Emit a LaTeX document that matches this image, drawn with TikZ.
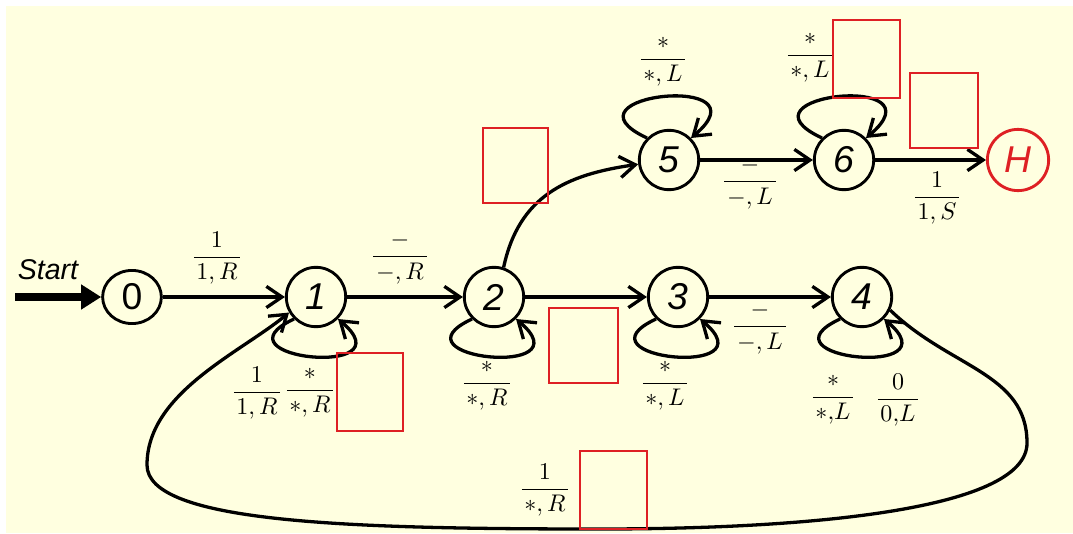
\documentclass[tikz,border=0pt]{standalone}
\usepackage{fontspec}
\setsansfont{Liberation Sans}
\usepackage{amsmath}
\usetikzlibrary{arrows.meta,shapes.geometric}
\definecolor{fond}{RGB}{255,255,224}
\definecolor{rouge}{RGB}{222,32,36}
\newcommand{\trans}[2]{$\dfrac{\mkern2mu#1\mkern2mu}{\mkern2mu#2\mkern2mu}$}

\begin{document}
\begin{tikzpicture}[x=0.16mm, y=0.16mm, >={Straight Barb[length=2.5mm,width=3.4mm]},
	etat/.style={draw, circle, line width=1.3pt, minimum size=9.5mm, inner sep=0pt, font=\fontsize{17}{18}\selectfont\sffamily\itshape},
	etiq/.style={font=\fontsize{10.5}{12}\selectfont, inner sep=0pt},
	fleche/.style={->, line width=1.5pt},
	boucleh/.style={fleche, out=155, in=40, distance=16.5mm},
	boucleb/.style={fleche, out=-155, in=-40, distance=15mm},
	cadre/.style={draw=rouge, line width=1.1pt}]
	% fond
	\useasboundingbox (0,0) rectangle (1073,533);
	\fill[fond] (6,0) rectangle (1073,527);
	% états
	\node[etat, ellipse, minimum width=9.4mm, minimum height=8.5mm, font=\fontsize{17}{18}\selectfont\sffamily] (n0) at (132,236) {0};
	\node[etat] (n1) at (316,236) {1};
	\node[etat] (n2) at (494,236) {2};
	\node[etat] (n3) at (678,236) {3};
	\node[etat] (n4) at (862,236) {4};
	\node[etat] (n5) at (669,373) {5};
	\node[etat] (n6) at (844,373) {6};
	\node[etat, draw=rouge, text=rouge, minimum size=9.8mm] (h) at (1018,373) {H};
	% départ
	\node[font=\fontsize{13}{14}\selectfont\sffamily\itshape] (start) at (48,263) {Start};
	\coordinate (s0) at (15,236);
	\draw[line width=3.2pt, -{Triangle[length=3.2mm,width=3.8mm]}] (s0) -- (n0);
	% transitions
	\draw[fleche] (n0) -- (n1);
	\draw[fleche] (n1) -- (n2);
	\draw[fleche] (n2) -- (n3);
	\draw[fleche] (n3) -- (n4);
	\draw[fleche] (n5) -- (n6);
	\draw[fleche] (n6) -- (h);
	\draw[fleche] (n2.72) to[out=78, in=188, looseness=1.1] (n5);
	% boucles
	\draw[boucleb] (n1.-135) to (n1.-45);
	\draw[boucleb] (n2.-135) to (n2.-45);
	\draw[boucleb] (n3.-135) to (n3.-45);
	\draw[boucleb] (n4.-135) to (n4.-45);
	\draw[boucleh] (n5.135) to (n5.45);
	\draw[boucleh] (n6.135) to (n6.45);
	% retour de 4 vers 1
	\coordinate (q1) at (1027,90);
	\coordinate (q2) at (600,4);
	\coordinate (q3) at (147,68);
	\draw[fleche] (n4.-25) .. controls (950,165) and (1027,160) .. (q1)
		.. controls (1027,25) and (820,4) .. (q2)
		.. controls (350,4) and (147,10) .. (q3)
		.. controls (147,140) and (240,180) .. (n1.-150);
	% étiquettes
	\node[etiq] (e01) at (217,275) {\trans{1}{1,R}};
	\node[etiq] (e12) at (400,275) {\trans{-}{-,R}};
	\node[etiq] (e55) at (663,471) {\trans{*}{*,L}};
	\node[etiq] (e56) at (750,350) {\trans{-}{-,L}};
	\node[etiq] (e66) at (810,475) {\trans{*}{*,L}};
	\node[etiq] (e6h) at (937,335) {\trans{1}{1,S}};
	\node[etiq] (e11a) at (257,140) {\trans{1}{1,R}};
	\node[etiq] (e11b) at (310,140) {\trans{*}{*,R}};
	\node[etiq] (e22) at (487,147) {\trans{*}{*,R}};
	\node[etiq] (e33) at (665,147) {\trans{*}{*,L}};
	\node[etiq] (e34) at (760,205) {\trans{-}{-,L}};
	\node[etiq] (e44a) at (833,133) {\trans{*}{*{,}L}};
	\node[etiq] (e44b) at (898,133) {\trans{0}{0{,}L}};
	\node[etiq] (e41) at (545,43) {\trans{1}{*,R}};
	% cadres rouges
	\draw[cadre] (483,330) rectangle (548,405);
	\draw[cadre] (833,435) rectangle (900,513);
	\draw[cadre] (910,385) rectangle (978,460);
	\draw[cadre] (337,102) rectangle (403,180);
	\draw[cadre] (549,150) rectangle (618,225);
	\draw[cadre] (580,4) rectangle (647,82);
\end{tikzpicture}
\end{document}
